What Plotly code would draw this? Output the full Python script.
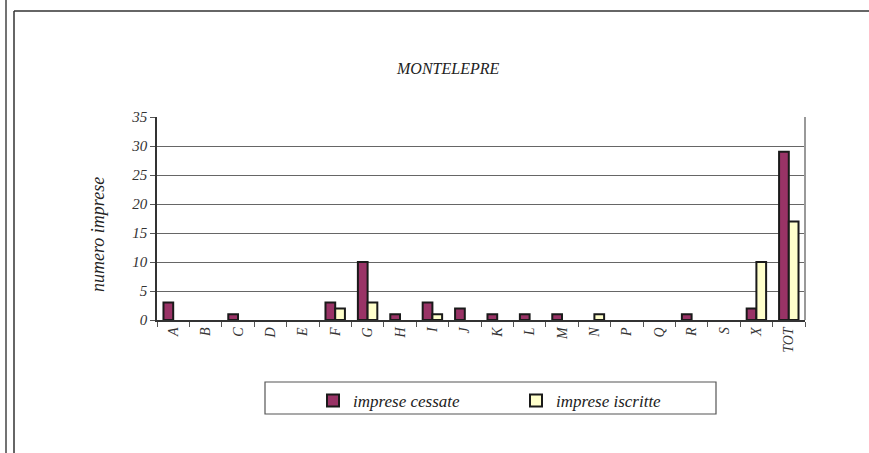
import plotly.graph_objects as go

# dati
settori = ['A', 'B', 'C', 'D', 'E', 'F', 'G', 'H', 'I', 'J', 'K', 'L', 'M', 'N',
           'P', 'Q', 'R', 'S', 'X', 'TOT']
cessate = [3, 0, 1, 0, 0, 3, 10, 1, 3, 2, 1, 1, 1, 0, 0, 0, 1, 0, 2, 29]
iscritte = [0, 0, 0, 0, 0, 2, 3, 0, 1, 0, 0, 0, 0, 1, 0, 0, 0, 0, 10, 17]

FONT = 'Liberation Serif'
W, H = 869, 453
L, R, T, B = 157, 805, 117, 320   # area del grafico in pixel


def px(x):
    return (x - L) / (R - L)


def py(y):
    return (B - y) / (B - T)


def visibili(valori):
    # le barre a zero non vengono disegnate
    return [v if v else None for v in valori]


fig = go.Figure()

fig.add_trace(go.Bar(
    x=settori, y=visibili(cessate), name='imprese cessate',
    marker=dict(color='#993366', line=dict(color='#1a1a1a', width=2))
))
fig.add_trace(go.Bar(
    x=settori, y=visibili(iscritte), name='imprese iscritte',
    marker=dict(color='#FFFFCC', line=dict(color='#1a1a1a', width=2))
))

fig.update_layout(
    width=W, height=H,
    margin=dict(l=L, r=W - R, t=T, b=H - B),
    paper_bgcolor='white', plot_bgcolor='white',
    barmode='group', bargap=0.4, bargroupgap=0,
    font=dict(family=FONT, size=14, color='#222'),
    showlegend=True,
    legend=dict(orientation='h', x=px(313), y=py(383), xanchor='left', yanchor='top',
                bgcolor='rgba(0,0,0,0)', borderwidth=0, entrywidth=158,
                font=dict(family=FONT, size=17, style='italic', color='#222')),
)

fig.update_xaxes(
    type='category', tickson='boundaries', ticks='outside', ticklen=5,
    tickcolor='#555', tickangle=-90,
    tickfont=dict(family=FONT, size=14, style='italic', color='#333'),
    showline=True, linecolor='#333', linewidth=1.5, showgrid=False,
)
fig.update_yaxes(
    range=[0, 35], dtick=5, ticks='outside', ticklen=5, tickcolor='#555',
    tickfont=dict(family=FONT, size=15, style='italic', color='#333'),
    showline=True, linecolor='#333', linewidth=1.5,
    showgrid=True, gridcolor='#666', gridwidth=1, zeroline=False,
)

# titolo e titolo asse
fig.add_annotation(text='MONTELEPRE', xref='paper', yref='paper',
                   x=px(447), y=py(68), xanchor='center', yanchor='middle',
                   showarrow=False,
                   font=dict(family=FONT, size=16, style='italic', color='#222'))
fig.add_annotation(text='numero imprese', xref='paper', yref='paper',
                   x=px(98), y=py(235), xanchor='center', yanchor='middle',
                   showarrow=False, textangle=-90,
                   font=dict(family=FONT, size=18, style='italic', color='#222'))

# bordo destro area grafico
fig.add_shape(type='line', xref='paper', yref='paper', x0=1, x1=1, y0=0, y1=1,
              line=dict(color='#999', width=2))
# riquadro legenda
fig.add_shape(type='rect', xref='paper', yref='paper',
              x0=px(265), x1=px(716), y0=py(382), y1=py(414),
              line=dict(color='#555', width=1.2))
# cornici esterne
fig.add_shape(type='line', xref='paper', yref='paper', x0=px(6), x1=px(6),
              y0=py(0), y1=py(H), line=dict(color='#444', width=1.5))
fig.add_shape(type='line', xref='paper', yref='paper', x0=px(14), x1=px(14),
              y0=py(11), y1=py(H), line=dict(color='#333', width=1.5))
fig.add_shape(type='line', xref='paper', yref='paper', x0=px(14), x1=px(W),
              y0=py(11), y1=py(11), line=dict(color='#333', width=1.5))

fig.write_html('out.html', config={'displayModeBar': False},
               post_script="document.body.style.margin='0';document.body.style.overflow='hidden';")
